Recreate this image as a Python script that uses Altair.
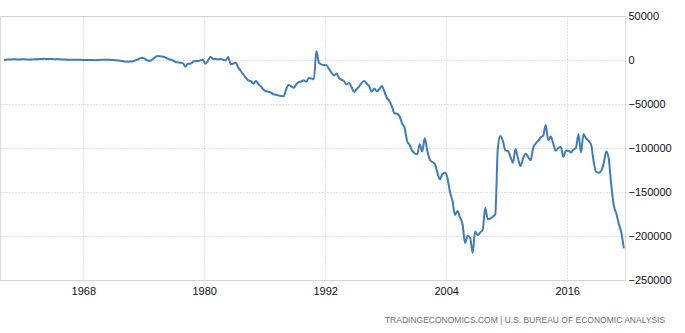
import altair as alt
import pandas as pd

# Quarterly US current account balance (USD million), 1960Q1 .. 2021Q3
first_year = 1960
v1960s = [200, 400, 500, 700, 900, 700, 600, 800, 800, 700, 700, 600,
          800, 900, 1000, 1100, 1300, 1000, 1000, 1100, 900, 1000, 800, 700,
          600, 400, 300, 300, 400, 300, 200, 100, 0, 100, 0, 0,
          -200, -100, 100, 200]
v1970s = [300, 400, 200, 0, -200, -600, -800, -1200, -1800, -1900, -1800, -1600,
          -600, 400, 1800, 2600, 1200, -600, -900, 800, 3200, 4500, 4400, 3800,
          3000, 1500, 500, -500, -2200, -2700, -3000, -3500, -7600, -4200, -4300, -2000,
          -1000, -1200, -300, 200]
v1980s = [-4200, -800, 3800, 1000, 1000, 800, 1200, 200, -500, 3500, -4800, -4000,
          -3000, -8500, -12500, -16300, -20000, -23100, -24000, -26900,
          -23900, -27500, -30000, -33500, -35500, -36000, -37000, -39000,
          -39500, -40500, -40800, -41300, -33300, -28400, -30000, -31400,
          -28000, -25000, -24500, -23000]
v1990s = [-24600, -20500, -21000, -22000, 10200, -3000, -4900, -5800,
          -6000, -10000, -14400, -17500, -15200, -20500, -22500, -24000,
          -27700, -26000, -31000, -36400, -33000, -30000, -26000, -24000,
          -27000, -30000, -36000, -32500, -35500, -33000, -29500, -36000,
          -43500, -46500, -53000, -60600, -61000, -64000, -72000, -77000]
v2000s = [-92000, -96600, -103000, -106000, -107200, -95800, -104000, -89000,
          -103000, -113000, -115900, -118000, -128000, -135600, -129500, -128000,
          -133700, -150000, -160000, -176000, -171600, -179000, -186700, -208000,
          -200000, -202000, -219000, -195000, -199000, -196000, -193000, -167800,
          -181000, -180000, -178000, -175000, -100000, -86400, -92000, -102600]
v2010s = [-103400, -110000, -116700, -101000, -112000, -120500, -112000, -106500,
          -110000, -114000, -100000, -95000, -92000, -88000, -86000, -74000,
          -91300, -87000, -95000, -103000, -100000, -99000, -110000, -103000,
          -103000, -105000, -102000, -99600, -84500, -105000, -84000, -89000,
          -92000, -96000, -115000, -127000, -128000, -126000, -118000, -104000]
v2020s = [-112000, -142000, -165000, -174500, -186000, -196000, -214000]

x_ticks = [1968, 1980, 1992, 2004, 2016]
y_ticks = [50000, 0, -50000, -100000, -150000, -200000, -250000]
footer = "TRADINGECONOMICS.COM  |  U.S. BUREAU OF ECONOMIC ANALYSIS"

values = v1960s + v1970s + v1980s + v1990s + v2000s + v2010s + v2020s
df = pd.DataFrame({
    "t": [first_year + (i + 0.5) / 4 for i in range(len(values))],
    "value": values,
})

font = "Liberation Sans"
grid_color = "#c4c4c4"

line = alt.Chart(df).mark_line(
    color="#3f7cba", strokeWidth=2, interpolate="monotone", clip=True
).encode(
    x=alt.X("t:Q",
            scale=alt.Scale(domain=[1959.74, 2021.74], nice=False, zero=False),
            axis=alt.Axis(values=x_ticks, format="d", title=None, grid=True,
                          gridColor=grid_color, gridDash=[1, 2], gridWidth=1,
                          domain=False, ticks=False, labelPadding=5,
                          labelFont=font, labelFontSize=11, labelColor="#111111")),
    y=alt.Y("value:Q",
            scale=alt.Scale(domain=[-250000, 50000], nice=False, zero=False),
            axis=alt.Axis(orient="right", values=y_ticks, format="d", title=None,
                          grid=True, gridColor=grid_color, gridDash=[1, 2], gridWidth=1,
                          domain=False, ticks=False, labelPadding=3, labelAlign="left",
                          labelFont=font, labelFontSize=11, labelColor="#111111")),
)

chart = line.properties(
    width=625, height=264,
    padding={"left": 0, "top": 10, "right": 0, "bottom": 0},
    title=alt.TitleParams(footer, orient="bottom", anchor="end", fontSize=8.5,
                          font=font, fontWeight="normal", color="#707070",
                          offset=20, dx=-6),
).configure_view(stroke=None).configure(background="white")

chart.save("out.html", embed_options={"renderer": "svg", "actions": False})
